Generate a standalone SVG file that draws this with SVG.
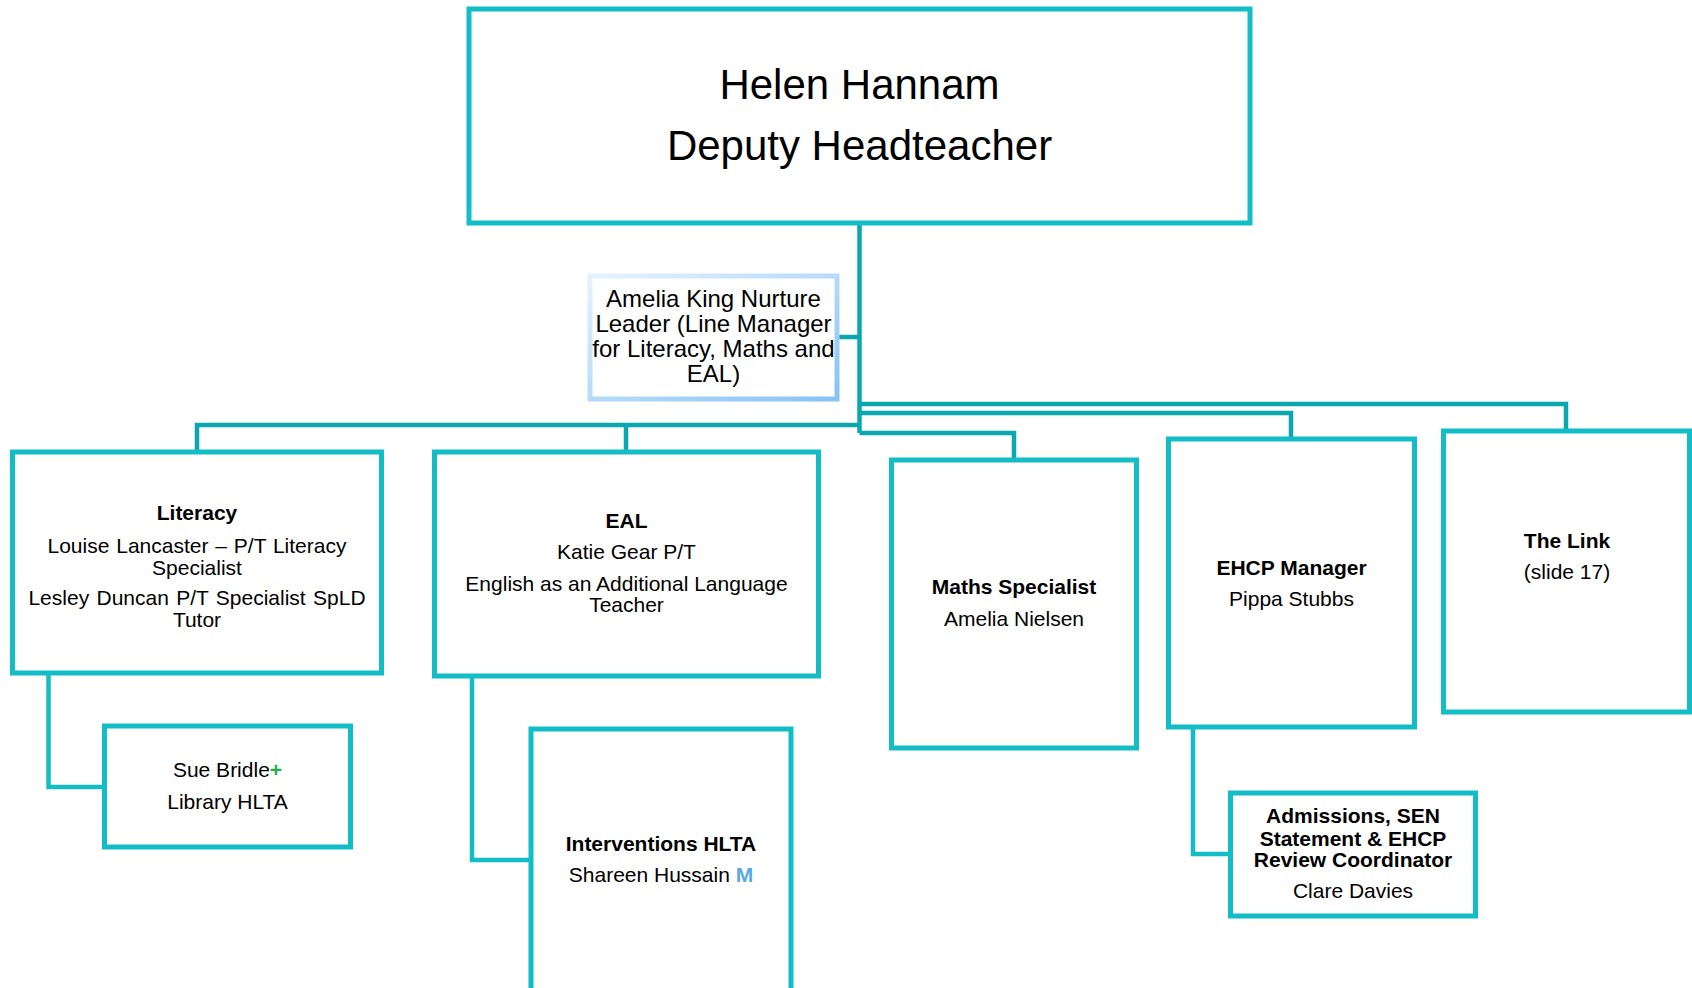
<svg xmlns="http://www.w3.org/2000/svg" width="1692" height="988" viewBox="0 0 1692 988">
<style>
.box{fill:#fff;stroke:#12BDC6;stroke-width:5}
.conn{fill:none;stroke:#0AA7AE;stroke-width:4.5;stroke-linejoin:miter}
.conn2{fill:none;stroke:#12BDC6;stroke-width:4.5}
text{font-family:"Liberation Sans",Arial,sans-serif;fill:#000;text-anchor:middle}
.t{font-size:21px}
.b{font-size:21px;font-weight:bold}
.big{font-size:42px}
.am{font-size:24px}
</style>
<defs>
<linearGradient id="lb" x1="0" y1="0" x2="1" y2="1">
<stop offset="0" stop-color="#E6F3FE"/>
<stop offset="1" stop-color="#86C2F4"/>
</linearGradient>
</defs>
<rect width="1692" height="988" fill="#fff"/>
<g id="connectors">
<path class="conn" d="M859.5 222V433"/>
<path class="conn" d="M836 337H859.5"/>
<path class="conn" d="M197 451V425H859.5"/>
<path class="conn" d="M626 425V451"/>
<path class="conn" d="M859.5 433H1014V459"/>
<path class="conn" d="M859.5 413H1291V438"/>
<path class="conn" d="M859.5 404H1566V430"/>
<path class="conn2" d="M48.5 672V787H106"/>
<path class="conn2" d="M472 675V860H532"/>
<path class="conn2" d="M1193 726V854H1232"/>
</g>
<g id="head">
<rect class="box" x="469" y="9" width="781" height="214"/>
<text class="big" x="859.5" y="99">Helen Hannam</text>
<text class="big" x="859.5" y="160">Deputy Headteacher</text>
</g>
<g id="amelia-king">
<rect x="590" y="276" width="247" height="123" fill="#fff" stroke="url(#lb)" stroke-width="5"/>
<text class="am" x="713.5" y="307">Amelia King Nurture</text>
<text class="am" x="713.5" y="332">Leader (Line Manager</text>
<text class="am" x="713.5" y="357">for Literacy, Maths and</text>
<text class="am" x="713.5" y="382">EAL)</text>
</g>
<g id="literacy">
<rect class="box" x="12.5" y="452" width="369" height="221"/>
<text class="b" x="197" y="520">Literacy</text>
<text class="t" x="197" y="553" word-spacing="1">Louise Lancaster – P/T Literacy</text>
<text class="t" x="197" y="575">Specialist</text>
<text class="t" x="197" y="605" word-spacing="1.5">Lesley Duncan P/T Specialist SpLD</text>
<text class="t" x="197" y="627">Tutor</text>
</g>
<g id="eal">
<rect class="box" x="434.5" y="452" width="384" height="224"/>
<text class="b" x="626.5" y="528">EAL</text>
<text class="t" x="626.5" y="559">Katie Gear P/T</text>
<text class="t" x="626.5" y="590.5">English as an Additional Language</text>
<text class="t" x="626.5" y="612">Teacher</text>
</g>
<g id="maths">
<rect class="box" x="891.5" y="460" width="245" height="288"/>
<text class="b" x="1014" y="594">Maths Specialist</text>
<text class="t" x="1014" y="625.5">Amelia Nielsen</text>
</g>
<g id="ehcp">
<rect class="box" x="1168.5" y="439" width="246" height="288"/>
<text class="b" x="1291.5" y="574.5">EHCP Manager</text>
<text class="t" x="1291.5" y="605.5">Pippa Stubbs</text>
</g>
<g id="the-link">
<rect class="box" x="1443.5" y="431" width="246" height="281"/>
<text class="b" x="1567" y="548">The Link</text>
<text class="t" x="1567" y="579">(slide 17)</text>
</g>
<g id="sue-bridle">
<rect class="box" x="104.5" y="726" width="246" height="121"/>
<text class="t" x="227.5" y="777">Sue Bridle<tspan fill="#1DB04B" font-weight="bold">+</tspan></text>
<text class="t" x="227.5" y="809">Library HLTA</text>
</g>
<g id="interventions">
<path class="box" d="M531 995V729H791V995"/>
<text class="b" x="661" y="850.5">Interventions HLTA</text>
<text class="t" x="661" y="881.5">Shareen Hussain <tspan fill="#5AA9E6" font-weight="bold">M</tspan></text>
</g>
<g id="admissions">
<rect class="box" x="1230.5" y="793" width="245" height="123"/>
<text class="b" x="1353" y="823">Admissions, SEN</text>
<text class="b" x="1353" y="845.5">Statement &amp; EHCP</text>
<text class="b" x="1353" y="867">Review Coordinator</text>
<text class="t" x="1353" y="898">Clare Davies</text>
</g>
</svg>
